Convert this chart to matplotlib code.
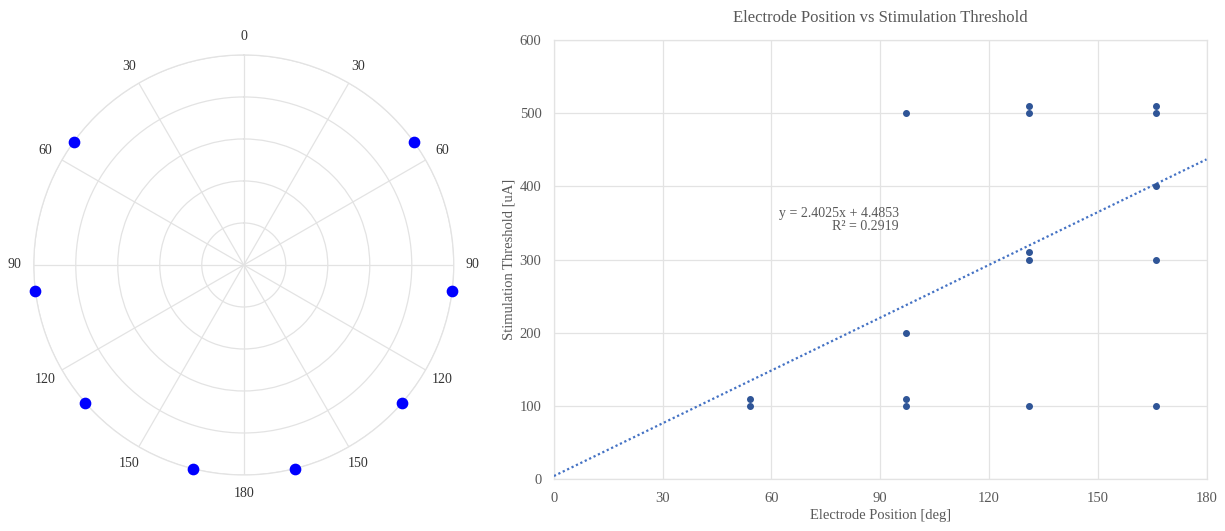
import numpy as np
import matplotlib
matplotlib.use("Agg")
import matplotlib.pyplot as plt

plt.rcParams['font.family'] = ['Liberation Serif', 'DejaVu Serif']

# electrode positions (deg) and thresholds (uA)
positions = [54, 54, 97, 97, 97, 97, 131, 131, 131, 131, 131, 166, 166, 166, 166, 166]
thresholds = [100, 110, 100, 110, 200, 500, 100, 300, 310, 500, 510, 100, 300, 400, 500, 510]

# electrode angles shown on the polar diagram (both sides)
electrode_angles = [54, 97, 131, 166, -54, -97, -131, -166]
electrode_radius = [5, 5, 5, 5, 5, 5, 5, 5]

theta_ticks = [0, 30, 60, 90, 120, 150, 180, 210, 240, 270, 300, 330]
theta_labels = ['0', '30', '60', '90', '120', '150', '180', '150', '120', '90', '60', '30']

# Excel trendline
trend_slope = 2.4025
trend_intercept = 4.4853
trend_r2 = 0.2919

grid_col = '#e3e3e3'
text_col = '#595959'

fig = plt.figure(figsize=(12.25, 5.31), dpi=100)

# polar diagram
axp = fig.add_axes([0.0275, 0.1055, 0.343, 0.791], projection='polar')
axp.set_theta_zero_location('N')
axp.set_theta_direction(-1)
axp.set_ylim(0, 5)
axp.set_rticks([1, 2, 3, 4, 5])
axp.set_yticklabels([])
axp.set_xticks(np.radians(theta_ticks))
axp.set_xticklabels([])
axp.grid(color=grid_col, linewidth=0.9)
axp.spines['polar'].set_color(grid_col)
axp.spines['polar'].set_linewidth(0.9)
axp.tick_params(length=0)
for a, lbl in zip(theta_ticks, theta_labels):
    axp.text(np.radians(a), 5.45, lbl, ha='center', va='center', fontsize=10,
             color='#333333', clip_on=False)
axp.scatter(np.radians(electrode_angles), electrode_radius, s=55, color='#0000ff',
            zorder=5, clip_on=False)

# scatter with trendline
ax = fig.add_axes([0.4522, 0.0974, 0.5327, 0.8273])
ax.scatter(positions, thresholds, s=16, color='#2f5597', zorder=4)
xs = np.array([0, 180])
ax.plot(xs, trend_slope * xs + trend_intercept, linestyle=(0, (1, 1.2)),
        color='#4472c4', linewidth=1.6, zorder=3)
ax.text(95.2, 354, 'y = %.4fx + %.4f\nR² = %.4f' % (trend_slope, trend_intercept, trend_r2),
        ha='right', va='center', ma='right', fontsize=10, color=text_col,
        linespacing=1.05)
ax.set_xlim(0, 180)
ax.set_ylim(0, 600)
ax.set_xticks(range(0, 181, 30))
ax.set_yticks(range(0, 601, 100))
ax.grid(color=grid_col, linewidth=0.9)
ax.set_axisbelow(True)
for s in ax.spines.values():
    s.set_color(grid_col)
    s.set_linewidth(0.9)
ax.tick_params(length=0, labelsize=10.5, labelcolor=text_col, pad=9)
ax.set_xlabel('Electrode Position [deg]', fontsize=10.5, color=text_col, labelpad=3)
ax.set_ylabel('Stimulation Threshold [uA]', fontsize=10.5, color=text_col, labelpad=3)
ax.set_title('Electrode Position vs Stimulation Threshold', fontsize=12, color=text_col, pad=13)

fig.savefig('out.png', dpi=100)
